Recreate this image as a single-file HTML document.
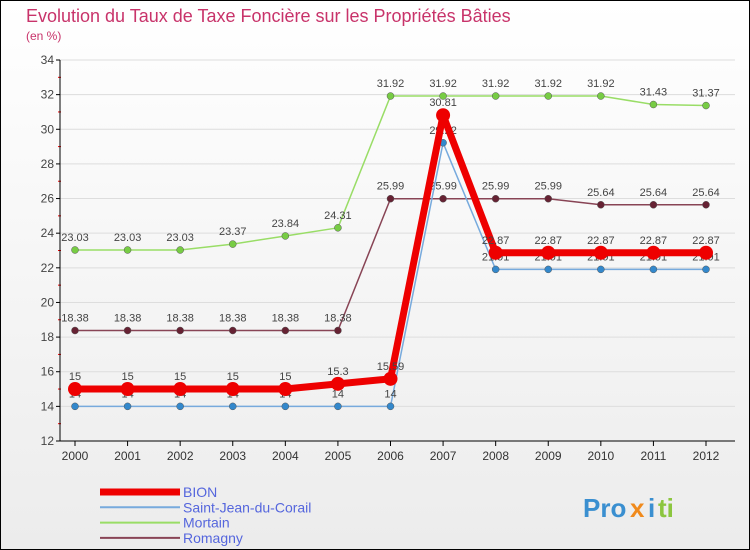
<!DOCTYPE html>
<html><head><meta charset="utf-8"><style>
body{margin:0;width:750px;height:550px;overflow:hidden;font-family:"Liberation Sans",sans-serif}
svg{display:block}
</style></head><body>
<svg width="750" height="550" id="c">
<defs><linearGradient id="bg" x1="0" y1="0" x2="0" y2="1"><stop offset="0" stop-color="#ffffff"/><stop offset="1" stop-color="#ececec"/></linearGradient></defs>
<rect x="0.5" y="0.5" width="749" height="549" fill="url(#bg)" stroke="#000"/>
<text x="26" y="22" font-size="18" fill="#c8336a">Evolution du Taux de Taxe Foncière sur les Propriétés Bâties</text>
<text x="26" y="40" font-size="12" fill="#c8336a">(en %)</text>
<g id="grid"></g><g id="axes"></g><g id="series"></g><g id="legend"></g>
<g font-size="26" font-weight="bold">
<text x="583" y="517" fill="#3a8fd0">Pro</text><text x="630" y="517" fill="#f08a1c">x</text><text x="648" y="517" fill="#3a8fd0">i</text><text x="658" y="517" fill="#8cc63f">ti</text>
</g>
</svg>
<script>
const years=["2000","2001","2002","2003","2004","2005","2006","2007","2008","2009","2010","2011","2012"];
const yTicks=[12,14,16,18,20,22,24,26,28,30,32,34];
const bion=[15,15,15,15,15,15.3,15.59,30.81,22.87,22.87,22.87,22.87,22.87];
const stJean=[14,14,14,14,14,14,14,29.22,21.91,21.91,21.91,21.91,21.91];
const mortain=[23.03,23.03,23.03,23.37,23.84,24.31,31.92,31.92,31.92,31.92,31.92,31.43,31.37];
const romagny=[18.38,18.38,18.38,18.38,18.38,18.38,25.99,25.99,25.99,25.99,25.64,25.64,25.64];
const NS="http://www.w3.org/2000/svg";
const X=i=>75+i*(631/12), Y=v=>441-(v-12)*(381/22);
function mk(p,t,a){const e=document.createElementNS(NS,t);for(const k in a)e.setAttribute(k,a[k]);p.appendChild(e);return e;}
const g=document.getElementById('grid'),ax=document.getElementById('axes'),sg=document.getElementById('series'),lg=document.getElementById('legend');
yTicks.forEach(v=>{const l=mk(g,'line',{x1:60,x2:735,y1:Y(v),y2:Y(v),stroke:'#dddddd'});

mk(ax,'line',{x1:56,x2:60,y1:Y(v),y2:Y(v),stroke:'#000'});
const t=mk(ax,'text',{x:54,y:Y(v)+4,'text-anchor':'end','font-size':12,fill:'#444'});t.textContent=v;

if(v<34)mk(ax,'line',{x1:58,x2:61,y1:Y(v+1),y2:Y(v+1),stroke:'#e00'});});
mk(ax,'line',{x1:60,x2:60,y1:Y(34),y2:441,stroke:'#000'});
mk(ax,'line',{x1:60,x2:735,y1:441,y2:441,stroke:'#000'});
years.forEach((y,i)=>{mk(ax,'line',{x1:X(i),x2:X(i),y1:441,y2:446,stroke:'#000'});
const t=mk(ax,'text',{x:X(i),y:460,'text-anchor':'middle','font-size':12,fill:'#333'});t.textContent=y;
});
function fmt(v){return String(v);}
function series(name,data,color,w,r,dot){
const grp=mk(sg,'g',{});
mk(grp,'polyline',{points:data.map((v,i)=>X(i)+','+Y(v)).join(' '),fill:'none',stroke:color,'stroke-width':w,'stroke-linejoin':'round'});
data.forEach((v,i)=>{const c=mk(grp,'circle',{cx:X(i),cy:Y(v),r:r,fill:dot,stroke:'#555','stroke-width':r>5?0:0.5});

const t=mk(grp,'text',{x:X(i),y:Y(v)-9,'text-anchor':'middle','font-size':11,fill:'#444'});t.textContent=fmt(v);
});}
series('mortain',mortain,'#99dd66',1.5,3.5,'#77cc44');
series('romagny',romagny,'#884455',1.5,3.5,'#662233');
series('saint-jean',stJean,'#77aadd',1.5,3.5,'#3388cc');
series('bion',bion,'#ee0000',7,7,'#ee0000');
const leg=[["BION","#ee0000",7],["Saint-Jean-du-Corail","#77aadd",2],["Mortain","#99dd66",2],["Romagny","#884455",2]];
leg.forEach((L,i)=>{const y=492+i*15.3;const e=mk(lg,'g',{});
mk(e,'line',{x1:100,x2:180,y1:y,y2:y,stroke:L[1],'stroke-width':L[2]});
const t=mk(e,'text',{x:183,y:y+5,'font-size':14,fill:'#5566dd'});t.textContent=L[0];});
</script>
</body></html>
